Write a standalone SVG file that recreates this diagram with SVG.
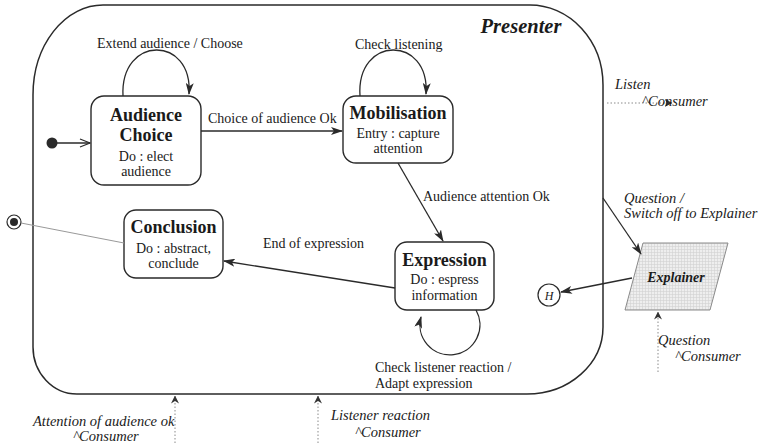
<svg xmlns="http://www.w3.org/2000/svg" width="759" height="443" viewBox="0 0 759 443">
  <style>
    .frame { fill: none; stroke: #2a2a2a; stroke-width: 1.5; }
    .state { fill: #fff; stroke: #2a2a2a; stroke-width: 1.4; }
    .edge { fill: none; stroke: #2a2a2a; stroke-width: 1.3; }
    .event { fill: none; stroke: #8a8a8a; stroke-width: 1; stroke-dasharray: 1.5 2; }
    .title { font-family: "Liberation Serif", serif; font-weight: bold; font-size: 18px; fill: #1a1a1a; text-anchor: middle; }
    .body { font-family: "Liberation Serif", serif; font-size: 14px; fill: #1a1a1a; text-anchor: middle; }
    .label { font-family: "Liberation Serif", serif; font-size: 14px; fill: #1a1a1a; }
    .ilabel { font-family: "Liberation Serif", serif; font-style: italic; font-size: 14.5px; fill: #1a1a1a; }
  </style>
  <defs>
    <marker id="arrow" viewBox="0 0 12 8" refX="11" refY="4" markerWidth="12" markerHeight="8" markerUnits="userSpaceOnUse" orient="auto">
      <path d="M0,0 L12,4 L0,8 L3,4 z" fill="#2a2a2a"/>
    </marker>
    <marker id="open" viewBox="0 0 12 10" refX="11" refY="5" markerWidth="12" markerHeight="10" markerUnits="userSpaceOnUse" orient="auto">
      <path d="M1,1 L11,5 L1,9" fill="none" stroke="#2a2a2a" stroke-width="1.2"/>
    </marker>
    <marker id="small" viewBox="0 0 8 8" refX="7.5" refY="4" markerWidth="8" markerHeight="8" markerUnits="userSpaceOnUse" orient="auto">
      <path d="M0,0 L8,4 L0,8 L2.5,4 z" fill="#333"/>
    </marker>
    <pattern id="mesh" width="3" height="3" patternUnits="userSpaceOnUse">
      <rect width="3" height="3" fill="#eeeeee"/>
      <path d="M0,0.5 H3 M0.5,0 V3" stroke="#d2d2d2" stroke-width="0.6"/>
    </pattern>
  </defs>

  <!-- Presenter composite state -->
  <g id="presenter">
    <path class="frame" d="M103,5 H530 A73,80 0 0 1 603,85 V327 A76,67 0 0 1 527,394 H77 A44,47 0 0 1 33,347 V95 A70,90 0 0 1 103,5 Z"/>
    <text x="521" y="33" font-family="Liberation Serif, serif" font-weight="bold" font-style="italic" font-size="20.5" fill="#1a1a1a" text-anchor="middle">Presenter</text>
  </g>

  <!-- pseudo states -->
  <g id="initial">
    <circle cx="52" cy="143" r="5.5" fill="#2a2a2a"/>
  </g>
  <g id="final">
    <circle cx="14" cy="222" r="7" fill="#fff" stroke="#2a2a2a" stroke-width="1.2"/>
    <circle cx="14" cy="222" r="4" fill="#2a2a2a"/>
  </g>
  <g id="history">
    <circle cx="549" cy="295" r="11" fill="#fff" stroke="#2a2a2a" stroke-width="1.2"/>
    <text x="549" y="299.5" font-family="Liberation Serif, serif" font-style="italic" font-size="12" fill="#1a1a1a" text-anchor="middle">H</text>
  </g>

  <!-- states -->
  <g id="audience-choice">
    <rect class="state" x="91" y="96" width="110" height="89" rx="13"/>
    <text class="title" x="146" y="121">Audience</text>
    <text class="title" x="146" y="141">Choice</text>
    <text class="body" x="146" y="161">Do : elect</text>
    <text class="body" x="146" y="176">audience</text>
  </g>
  <g id="mobilisation">
    <rect class="state" x="343" y="96" width="110" height="67" rx="13"/>
    <text class="title" x="398" y="119">Mobilisation</text>
    <text class="body" x="398" y="138">Entry : capture</text>
    <text class="body" x="398" y="153">attention</text>
  </g>
  <g id="conclusion">
    <rect class="state" x="124" y="210" width="99" height="68" rx="12"/>
    <text class="title" x="173.5" y="233">Conclusion</text>
    <text class="body" x="173.5" y="253">Do : abstract,</text>
    <text class="body" x="173.5" y="268">conclude</text>
  </g>
  <g id="expression">
    <rect class="state" x="395" y="242" width="99" height="68" rx="12"/>
    <text class="title" x="444.5" y="266">Expression</text>
    <text class="body" x="444.5" y="284">Do : espress</text>
    <text class="body" x="444.5" y="300">information</text>
  </g>
  <g id="explainer">
    <polygon points="643,243 728,243 710,310 625,310" fill="url(#mesh)" stroke="#8a8a8a" stroke-width="1"/>
    <text x="676" y="282" font-family="Liberation Serif, serif" font-weight="bold" font-style="italic" font-size="14" fill="#1a1a1a" text-anchor="middle">Explainer</text>
  </g>

  <!-- transitions and events -->
  <g id="connectors">
    <path class="edge" d="M57,143 L90,143" marker-end="url(#open)"/>
    <path d="M124,243 L21,223" fill="none" stroke="#999" stroke-width="1"/>
    <path class="edge" d="M123,96 C120,35 193,35 189,94" marker-end="url(#arrow)"/>
    <path class="edge" d="M360,96 C356,35 430,35 426,94" marker-end="url(#arrow)"/>
    <path class="edge" d="M201,131 L342,131" marker-end="url(#arrow)"/>
    <path class="edge" d="M398,163 L443,241" marker-end="url(#arrow)"/>
    <path class="edge" d="M395,288 L224,261" marker-end="url(#arrow)"/>
    <path class="edge" d="M476,310 A30,30 0 1 1 421,317" marker-end="url(#arrow)"/>
    <path class="edge" d="M603,198 L641,254" marker-end="url(#arrow)"/>
    <path class="edge" d="M632,278 L561,292" marker-end="url(#arrow)"/>

    <path class="event" d="M607,103 L672,103" marker-end="url(#small)"/>
    <path class="event" d="M658,372 L658,312" marker-end="url(#small)"/>
    <path class="event" d="M175,443 L175,396" marker-end="url(#small)"/>
    <path class="event" d="M318,443 L318,396" marker-end="url(#small)"/>
  </g>

  <!-- transition labels -->
  <g id="labels">
    <text class="label" x="97" y="48">Extend audience / Choose</text>
    <text class="label" x="355" y="49">Check listening</text>
    <text class="label" x="208" y="123">Choice of audience Ok</text>
    <text class="label" x="423" y="201">Audience attention Ok</text>
    <text class="label" x="263" y="248">End of expression</text>
    <text class="label" x="375" y="372">Check listener reaction /</text>
    <text class="label" x="375" y="388">Adapt expression</text>

    <text class="ilabel" x="615" y="89">Listen</text>
    <text class="ilabel" x="642" y="106">^Consumer</text>
    <text class="ilabel" x="624" y="203">Question /</text>
    <text class="ilabel" x="624" y="218">Switch off to Explainer</text>
    <text class="ilabel" x="658" y="345">Question</text>
    <text class="ilabel" x="675" y="361">^Consumer</text>
    <text class="ilabel" x="33" y="426">Attention of audience ok</text>
    <text class="ilabel" x="73" y="441">^Consumer</text>
    <text class="ilabel" x="331" y="420">Listener reaction</text>
    <text class="ilabel" x="355" y="437">^Consumer</text>
  </g>
</svg>
